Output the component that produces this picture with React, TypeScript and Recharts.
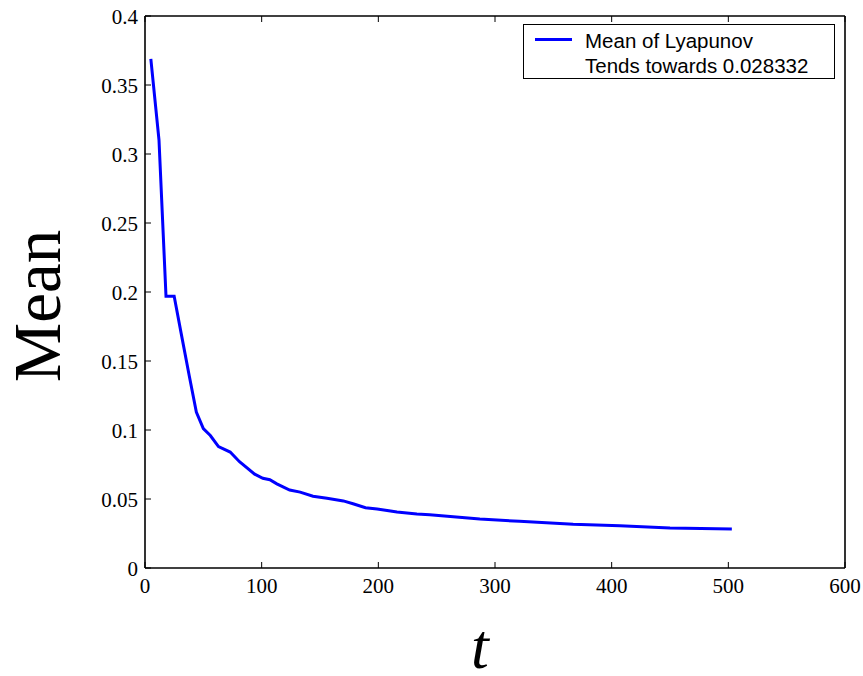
import React from 'react';
import { LineChart, Line, XAxis, YAxis } from 'recharts';

const tValues = [5, 12, 18, 25, 31, 38, 44, 50, 56, 63, 73, 81, 94, 101, 107, 113, 124, 133, 144, 156, 170, 179, 189, 199, 216, 233, 244, 287, 321, 367, 407, 450, 503];
const meanValues = [0.369, 0.31, 0.197, 0.197, 0.17, 0.139, 0.113, 0.101, 0.096, 0.088, 0.084, 0.077, 0.068, 0.065, 0.064, 0.061, 0.0565, 0.055, 0.052, 0.0505, 0.0486, 0.0464, 0.0437, 0.0428, 0.0406, 0.0391, 0.0386, 0.0355, 0.0338, 0.0317, 0.0307, 0.029, 0.0283];
const xTicks = [0, 100, 200, 300, 400, 500, 600];
const yTicks = [0, 0.05, 0.1, 0.15, 0.2, 0.25, 0.3, 0.35, 0.4];
const seriesName = 'Mean of Lyapunov';
const seriesNote = 'Tends towards 0.028332';

const data = tValues.map((t, i) => ({ t, mean: meanValues[i] }));

const SERIF = '"Liberation Serif", "Times New Roman", serif';
const SANS = '"Liberation Sans", Arial, sans-serif';
const TL = 6;

const BottomTick = (p: any) => (
  <g>
    <line x1={p.x} y1={p.y} x2={p.x} y2={p.y - TL} stroke="#000" strokeWidth={1} />
    <text x={p.x} y={p.y + 25} textAnchor="middle" fontFamily={SERIF} fontSize={21} fill="#000">
      {String(p.payload.value)}
    </text>
  </g>
);
const TopTick = (p: any) => (
  <line x1={p.x} y1={p.y} x2={p.x} y2={p.y + TL} stroke="#000" strokeWidth={1} />
);
const LeftTick = (p: any) => (
  <g>
    <line x1={p.x} y1={p.y} x2={p.x + TL} y2={p.y} stroke="#000" strokeWidth={1} />
    <text x={p.x - 7} y={p.y + 8} textAnchor="end" fontFamily={SERIF} fontSize={21} fill="#000">
      {String(p.payload.value)}
    </text>
  </g>
);
const RightTick = (p: any) => (
  <line x1={p.x} y1={p.y} x2={p.x - TL} y2={p.y} stroke="#000" strokeWidth={1} />
);

const LegendBox = () => (
  <div style={{ position: 'absolute', left: 523, top: 24, width: 312, height: 55, border: '1px solid #000', background: '#fff', boxSizing: 'border-box' }}>
    <svg width={312} height={55} style={{ position: 'absolute', left: -1, top: -1 }}>
      <line x1={12} y1={15.5} x2={49} y2={15.5} stroke="#0000ff" strokeWidth={3} />
      <text x={62} y={23.5} fontFamily={SANS} fontSize={20.5} fill="#000">{seriesName}</text>
      <text x={62} y={48.5} fontFamily={SANS} fontSize={20.5} fill="#000">{seriesNote}</text>
    </svg>
  </div>
);

export default function App() {
  return (
    <div style={{ position: 'absolute', left: 0, top: 0, width: 863, height: 676, background: '#fff' }}>
      <LineChart width={863} height={676} data={data} margin={{ top: 0, right: 0, bottom: 0, left: 0 }}>
        <XAxis
          xAxisId="b"
          dataKey="t"
          type="number"
          domain={[0, 600]}
          ticks={xTicks}
          orientation="bottom"
          height={108}
          tickSize={0}
          tickMargin={0}
          tick={<BottomTick />}
          axisLine={{ stroke: '#000', strokeWidth: 1.6 }}
          tickLine={false}
          interval={0}
          label={{
            content: () => (
              <text x={480} y={668} textAnchor="middle" fontFamily={SERIF} fontStyle="italic" fontSize={64} fill="#000">t</text>
            ),
          }}
        />
        <XAxis
          xAxisId="top"
          dataKey="t"
          type="number"
          domain={[0, 600]}
          ticks={xTicks}
          orientation="top"
          height={16}
          tickSize={0}
          tickMargin={0}
          tick={<TopTick />}
          axisLine={{ stroke: '#000', strokeWidth: 1.6 }}
          tickLine={false}
          interval={0}
        />
        <YAxis
          yAxisId="l"
          type="number"
          domain={[0, 0.4]}
          ticks={yTicks}
          orientation="left"
          width={145}
          tickSize={0}
          tickMargin={0}
          tick={<LeftTick />}
          axisLine={{ stroke: '#000', strokeWidth: 1.6 }}
          tickLine={false}
          interval={0}
          label={{
            content: () => (
              <text x={60} y={306} transform="rotate(-90 60 306)" textAnchor="middle" fontFamily={SERIF} fontSize={67} fill="#000">Mean</text>
            ),
          }}
        />
        <YAxis
          yAxisId="r"
          type="number"
          domain={[0, 0.4]}
          ticks={yTicks}
          orientation="right"
          width={18}
          tickSize={0}
          tickMargin={0}
          tick={<RightTick />}
          axisLine={{ stroke: '#000', strokeWidth: 1.6 }}
          tickLine={false}
          interval={0}
        />
        <Line
          xAxisId="b"
          yAxisId="l"
          type="linear"
          dataKey="mean"
          name={seriesName}
          stroke="#0000ff"
          strokeWidth={3}
          dot={false}
          activeDot={false}
          isAnimationActive={false}
        />
      </LineChart>
      <LegendBox />
    </div>
  );
}
